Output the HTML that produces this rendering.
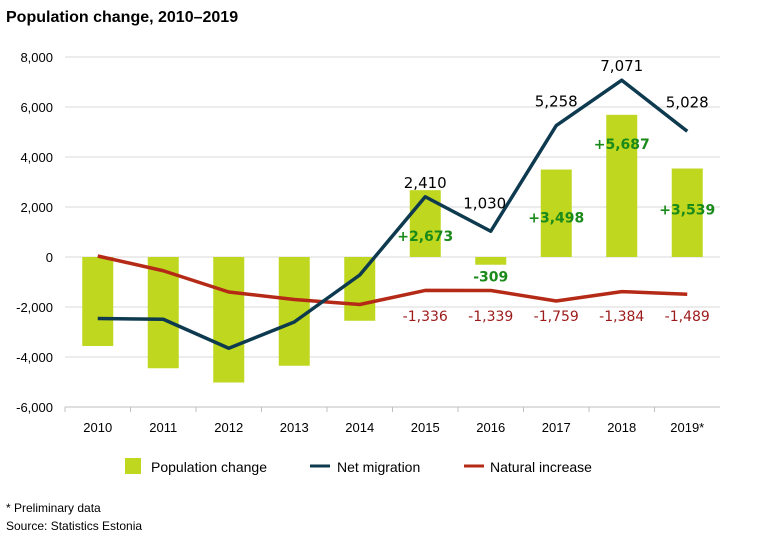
<!DOCTYPE html>
<html><head><meta charset="utf-8">
<style>
body{margin:0;background:#fff;font-family:"Liberation Sans",sans-serif;}
#wrap{position:relative;width:782px;height:548px;overflow:hidden}
</style></head>
<body>
<div id="wrap">
<svg id="chart" width="782" height="548" xmlns="http://www.w3.org/2000/svg">
<text x="6" y="22" font-size="16" font-weight="bold" fill="#000">Population change, 2010–2019</text>
<g id="grid"></g><g id="bars"></g><g id="lines"></g><g id="labels"></g>
<g>
<rect x="125" y="458" width="16" height="16" fill="#bfd71e"/>
<text x="151" y="472" font-size="14">Population change</text>
<line x1="310" y1="466" x2="330" y2="466" stroke="#0e3a4f" stroke-width="3"/>
<text x="337" y="472" font-size="14">Net migration</text>
<line x1="464" y1="466" x2="484" y2="466" stroke="#b52a16" stroke-width="3"/>
<text x="490" y="472" font-size="14">Natural increase</text>
</g>
<text x="6" y="512" font-size="12">* Preliminary data</text>
<text x="6" y="530" font-size="12">Source: Statistics Estonia</text>
</svg>
</div>
<script>
const years=["2010","2011","2012","2013","2014","2015","2016","2017","2018","2019*"];
const popChange=[-3560,-4450,-5020,-4350,-2550,2673,-309,3498,5687,3539];
const netMigration=[-2460,-2490,-3650,-2600,-720,2410,1030,5258,7071,5028];
const naturalIncrease=[40,-550,-1400,-1700,-1900,-1336,-1339,-1759,-1384,-1489];
const popLabels=[null,null,null,null,null,"+2,673","-309","+3,498","+5,687","+3,539"];
const netLabels=[null,null,null,null,null,"2,410","1,030","5,258","7,071","5,028"];
const natLabels=[null,null,null,null,null,"-1,336","-1,339","-1,759","-1,384","-1,489"];
const yTicks=[8000,6000,4000,2000,0,-2000,-4000,-6000];

const NS="http://www.w3.org/2000/svg";
const LF='"DejaVu Sans", sans-serif';
const L=65,R=720,T=57,B=407,yMax=8000,yMin=-6000;
const step=(R-L)/years.length;
const x=i=>L+step*(i+0.5);
const y=v=>T+(yMax-v)/(yMax-yMin)*(B-T);
function mk(tag,attrs,parent,txt){const e=document.createElementNS(NS,tag);for(const k in attrs)e.setAttribute(k,attrs[k]);if(txt!==undefined)e.textContent=txt;parent.appendChild(e);return e;}
const grid=document.getElementById('grid'),bars=document.getElementById('bars'),lines=document.getElementById('lines'),labels=document.getElementById('labels');
yTicks.forEach(t=>{
  const l=mk('line',{x1:L,x2:R,y1:y(t),y2:y(t),stroke:'#d9d9d9','stroke-width':1},grid);
  
  
  const tx=mk('text',{x:L-12,y:y(t)+5,'font-size':13,'text-anchor':'end',fill:'#000'},grid,t.toLocaleString('en-US'));
  
  
});
const ax=mk('line',{x1:L,x2:R,y1:B,y2:B,stroke:'#bfbfbf'},grid);


years.forEach((yr,i)=>{
  const tk=mk('line',{x1:L+step*i,x2:L+step*i,y1:B,y2:B+5,stroke:'#bfbfbf'},grid);
  
  
  const tx=mk('text',{x:x(i),y:B+25,'font-size':13,'text-anchor':'middle'},grid,yr);
  
  
});
const bw=31;
popChange.forEach((v,i)=>{
  const r=mk('rect',{x:x(i)-bw/2,y:Math.min(y(v),y(0)),width:bw,height:Math.abs(y(v)-y(0)),fill:'#bfd71e'},bars);
  
  
});
function line(data,color,name){
  const p=mk('polyline',{points:data.map((v,i)=>x(i)+','+y(v)).join(' '),fill:'none',stroke:color,'stroke-width':3.5,'stroke-linejoin':'round'},lines);
  
  
}
line(naturalIncrease,'#b52a16','natural-increase-line');
line(netMigration,'#0e3a4f','net-migration-line');
const popOff=[0,0,0,0,0,51,17,53,34,46];
const netOff=[0,0,0,0,0,-9,-23,-19,-9,-24];
const netDx=[0,0,0,0,0,0,-6,0,0,0];
years.forEach((yr,i)=>{
  if(netLabels[i]){const t=mk('text',{x:x(i)+netDx[i],y:y(netMigration[i])+netOff[i],'font-size':15,'font-family':LF,'text-anchor':'middle',fill:'#000'},labels,netLabels[i]);
    
    }
  if(popLabels[i]){const t=mk('text',{x:x(i),y:y(popChange[i])+popOff[i],'font-size':14,'font-family':LF,'font-weight':'bold','text-anchor':'middle',fill:'#1a8a1a'},labels,popLabels[i]);
    
    }
  if(natLabels[i]){const t=mk('text',{x:x(i),y:321,'font-size':14,'font-family':LF,'text-anchor':'middle',fill:'#9c1a1a'},labels,natLabels[i]);
    
    }
});
</script>
</body></html>
